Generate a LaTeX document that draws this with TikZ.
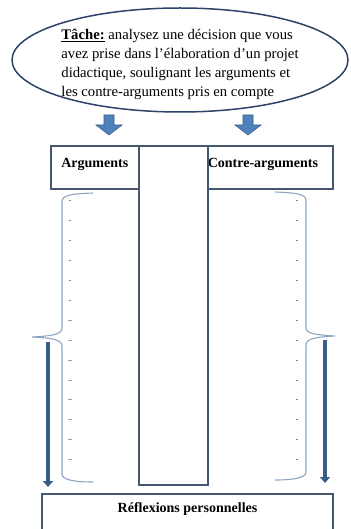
\documentclass[tikz,border=0pt]{standalone}
\usepackage{fontspec}
\setmainfont{Liberation Serif}
\usetikzlibrary{shapes.geometric, arrows.meta, positioning}
\definecolor{framecol}{HTML}{46586F}
\definecolor{bracecol}{HTML}{8FA6C3}
\definecolor{arrowfill}{HTML}{4F81BD}
\definecolor{arrowline}{HTML}{385D8A}
\definecolor{ovalcol}{HTML}{2C4268}

\begin{document}
\begin{tikzpicture}[x=1pt, y=-1pt,
  cell/.style={draw=framecol, line width=1.6pt, inner sep=0pt, text height=22pt, text depth=21pt, font=\bfseries\fontsize{14}{16}\selectfont},
  brace/.style={draw=bracecol, line width=1.1pt},
  dashmark/.style={font=\bfseries\fontsize{7}{7}\selectfont, text=black!85, inner sep=0pt},
  longarrow/.style={draw=arrowline, line width=4.5pt, -{Triangle[width=10pt, length=6pt]}},
  blockarrow/.pic={\filldraw[fill=arrowfill, draw=arrowline, line width=0.6pt] (-5,0) -- (5,0) -- (5,10) -- (13,10) -- (0,20) -- (-13,10) -- (-5,10) -- cycle;}]
  \clip (0,0) rectangle (350,529);
  \node[ellipse, draw=ovalcol, line width=1.5pt, minimum width=336pt, minimum height=104pt] (task) at (180,60) {};
  \node[align=left, inner sep=0pt, font=\fontsize{14.7}{19}\selectfont] (tasktxt) at (180,64)
    {\textbf{\underline{Tâche:}} analysez une décision que vous\\avez prise dans l’élaboration d’un projet\\didactique, soulignant les arguments et\\les contre-arguments pris en compte};
  \pic (al) at (109,115) {blockarrow};
  \pic (ar) at (248,115) {blockarrow};
  \node[cell, minimum width=88pt, anchor=north west] (args) at (50,145) {Arguments};
  \node[cell, text width=125pt, align=left, anchor=north west] (contra) at (207,145) {Contre-arguments};
  \node[draw=framecol, line width=1.6pt, inner sep=0pt, minimum width=69pt, minimum height=339pt, anchor=north west] (mid) at (138,145) {};
  \draw[brace] (93,193) .. controls (70,194) and (62,195) .. (62,202) -- (62,328)
    .. controls (62,335) and (50,336) .. (32,337) .. controls (50,338) and (62,339) .. (62,346)
    -- (62,474) .. controls (62,480) and (75,482) .. (93,482);
  \draw[brace] (275,192) .. controls (298,193) and (306,194) .. (306,201) -- (306,328)
    .. controls (306,334) and (318,335) .. (335,336) .. controls (318,337) and (306,338) .. (306,345)
    -- (306,472) .. controls (306,478) and (293,480) .. (275,480);
  \foreach \i [evaluate=\i as \y using 202+19.9*\i] in {0,...,5}
    \node[dashmark] (l\i) at (70,\y) {-};
  \foreach \i [evaluate=\i as \y using 202+19.9*\i] in {6,...,13}
    \node[dashmark] (l\i) at (70,\y) {--};
  \foreach \i [evaluate=\i as \y using 202+19.9*\i] in {0,...,13}
    \node[dashmark] (r\i) at (297,\y) {-};
  \node[draw=framecol, line width=1.6pt, inner sep=0pt, minimum width=291pt, text height=19pt, text depth=21pt, anchor=north, font=\bfseries\fontsize{14}{16}\selectfont] (refl) at (187.5,493) {Réflexions personnelles};
  \coordinate (lfrom) at (48,342);
  \coordinate (rfrom) at (325,340);
  \draw[longarrow, shorten >=6pt] (lfrom) -- (lfrom |- refl.north);
  \draw[longarrow, shorten >=10pt] (rfrom) -- (rfrom |- refl.north);
\end{tikzpicture}
\end{document}
